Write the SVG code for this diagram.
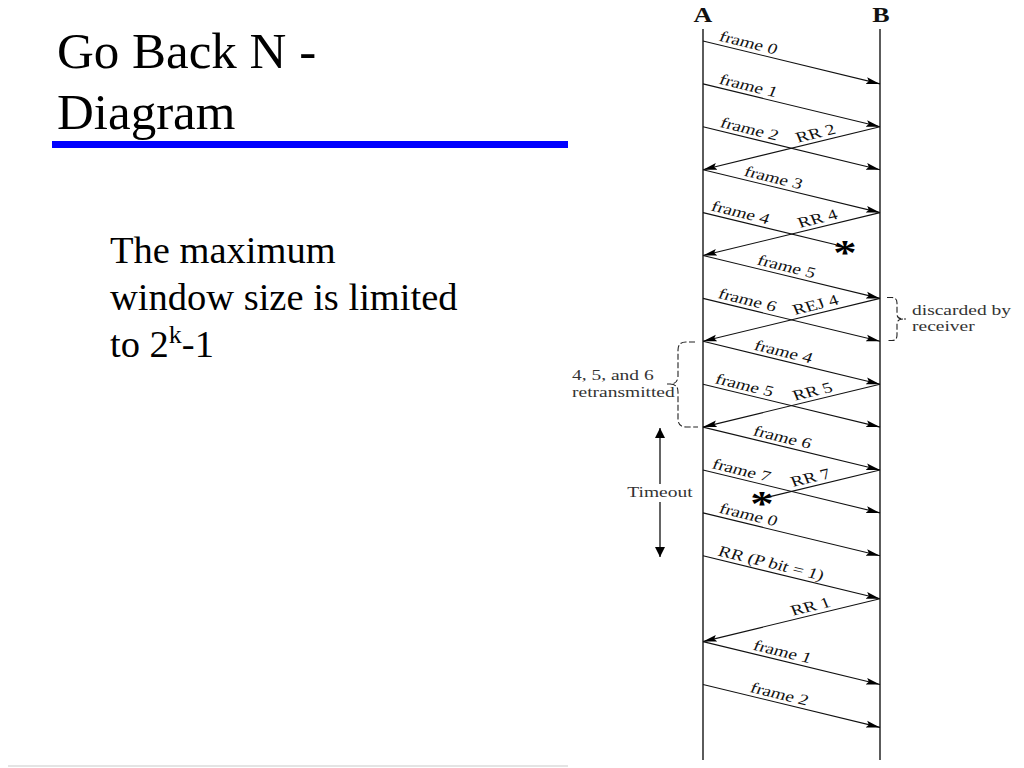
<svg xmlns="http://www.w3.org/2000/svg" width="1024" height="768" viewBox="0 0 1024 768">
<style>
.title{font-family:"Liberation Serif","Times New Roman",serif;font-size:51px;fill:#000}
.body{font-family:"Liberation Serif","Times New Roman",serif;font-size:38.5px;fill:#000}
.lbl{font-family:"Liberation Serif","Times New Roman",serif;font-size:15px;fill:#111}
.note{font-family:"Liberation Serif","Times New Roman",serif;font-size:15px;fill:#333}
.hd{font-family:"Liberation Serif","Times New Roman",serif;font-size:20px;font-weight:bold;fill:#111}
.star{font-family:"Liberation Serif","Times New Roman",serif;font-size:36px;font-weight:bold;fill:#000}
.life{stroke:#333;stroke-width:1.6;fill:none}
.msg{stroke:#111;stroke-width:1.1;fill:none;marker-end:url(#ah)}
.lost{stroke:#111;stroke-width:1.1;fill:none}
.brace{stroke:#222;stroke-width:1.1;fill:none;stroke-dasharray:6,2.5}
.tmo{stroke:#111;stroke-width:1.3;fill:none;marker-end:url(#ah2)}
</style>
<defs>
<marker id="ah" markerUnits="userSpaceOnUse" markerWidth="16" markerHeight="10" refX="14" refY="4" orient="auto"><path d="M0,0.6 L14,4 L0,7.4 L2.5,4 z" fill="#000"/></marker>
<marker id="ah2" markerUnits="userSpaceOnUse" markerWidth="12" markerHeight="12" refX="10" refY="5" orient="auto"><path d="M0,0 L10,5 L0,10 z" fill="#000"/></marker>
</defs>
<rect width="1024" height="768" fill="#fff"/>

<g id="title">
<text class="title" x="57" y="68">Go Back N -</text>
<text class="title" x="57" y="129">Diagram</text>
<rect x="52" y="141" width="516" height="7" fill="#0000ff"/>
</g>

<g id="body-text">
<text class="body" x="110" y="263">The maximum</text>
<text class="body" x="110" y="310">window size is limited</text>
<text class="body" x="110" y="357">to 2<tspan font-size="26" dy="-14">k</tspan><tspan dy="14">-1</tspan></text>
</g>

<line id="footer-rule" x1="8" y1="766" x2="568" y2="766" stroke="#e4e4e4" stroke-width="2"/>

<g id="station-A">
<text class="hd" text-anchor="middle" transform="translate(703,22) scale(1.3,1)">A</text>
<line class="life" x1="703" y1="29" x2="703" y2="760"/>
</g>
<g id="station-B">
<text class="hd" text-anchor="middle" transform="translate(881,22) scale(1.3,1)">B</text>
<line class="life" x1="880" y1="29" x2="880" y2="760"/>
</g>

<g id="connectors">
<line class="msg" x1="703" y1="41" x2="880" y2="83.9"/>
<line class="msg" x1="703" y1="83.9" x2="880" y2="126.8"/>
<line class="msg" x1="703" y1="126.8" x2="880" y2="169.7"/>
<line class="msg" x1="880" y1="126.8" x2="703" y2="169.7"/>
<line class="msg" x1="703" y1="169.7" x2="880" y2="212.6"/>
<line class="lost" x1="703" y1="212.6" x2="836" y2="244.8"/>
<line class="msg" x1="880" y1="212.6" x2="703" y2="255.5"/>
<line class="msg" x1="703" y1="255.5" x2="880" y2="298.4"/>
<line class="msg" x1="703" y1="298.4" x2="880" y2="341.3"/>
<line class="msg" x1="880" y1="298.4" x2="703" y2="341.3"/>
<line class="msg" x1="703" y1="341.3" x2="880" y2="384.2"/>
<line class="msg" x1="703" y1="384.2" x2="880" y2="427.1"/>
<line class="msg" x1="880" y1="384.2" x2="703" y2="427.1"/>
<line class="msg" x1="703" y1="427.1" x2="880" y2="470"/>
<line class="msg" x1="703" y1="470" x2="880" y2="512.9"/>
<line class="lost" x1="880" y1="470" x2="768" y2="497.1"/>
<line class="msg" x1="703" y1="512.9" x2="880" y2="555.8"/>
<line class="msg" x1="703" y1="555.8" x2="880" y2="598.7"/>
<line class="msg" x1="880" y1="598.7" x2="703" y2="641.6"/>
<line class="msg" x1="703" y1="641.6" x2="880" y2="684.5"/>
<line class="msg" x1="703" y1="684.5" x2="880" y2="727.4"/>
</g>

<g id="message-labels">
<text class="lbl" transform="translate(718,40.6) scale(1.3,1) rotate(17.49)">frame 0</text>
<text class="lbl" transform="translate(718,83.5) scale(1.3,1) rotate(17.49)">frame 1</text>
<text class="lbl" transform="translate(719,126.7) scale(1.3,1) rotate(17.49)">frame 2</text>
<text class="lbl" transform="translate(798,142.7) scale(1.3,1) rotate(-17.49)">RR 2</text>
<text class="lbl" transform="translate(743,175.4) scale(1.3,1) rotate(17.49)">frame 3</text>
<text class="lbl" transform="translate(710,210.3) scale(1.3,1) rotate(17.49)">frame 4</text>
<text class="lbl" transform="translate(800,228) scale(1.3,1) rotate(-17.49)">RR 4</text>
<text class="lbl" transform="translate(756,264.3) scale(1.3,1) rotate(17.49)">frame 5</text>
<text class="lbl" transform="translate(717,297.8) scale(1.3,1) rotate(17.49)">frame 6</text>
<text class="lbl" transform="translate(795,315) scale(1.3,1) rotate(-17.49)">REJ 4</text>
<text class="lbl" transform="translate(753,349.4) scale(1.3,1) rotate(17.49)">frame 4</text>
<text class="lbl" transform="translate(714,382.9) scale(1.3,1) rotate(17.49)">frame 5</text>
<text class="lbl" transform="translate(795,400.8) scale(1.3,1) rotate(-17.49)">RR 5</text>
<text class="lbl" transform="translate(752,435) scale(1.3,1) rotate(17.49)">frame 6</text>
<text class="lbl" transform="translate(711,467.9) scale(1.3,1) rotate(17.49)">frame 7</text>
<text class="lbl" transform="translate(793,487.1) scale(1.3,1) rotate(-17.49)">RR 7</text>
<text class="lbl" transform="translate(718,512.5) scale(1.3,1) rotate(17.49)">frame 0</text>
<text class="lbl" transform="translate(717,555.2) scale(1.3,1) rotate(17.49)">RR (P bit = 1)</text>
<text class="lbl" transform="translate(793,615.8) scale(1.3,1) rotate(-17.49)">RR 1</text>
<text class="lbl" transform="translate(752,649.5) scale(1.3,1) rotate(17.49)">frame 1</text>
<text class="lbl" transform="translate(749,691.7) scale(1.3,1) rotate(17.49)">frame 2</text>
</g>

<g id="lost-marks">
<text class="star" text-anchor="middle" transform="translate(845,265) scale(1.3,1)">*</text>
<text class="star" text-anchor="middle" transform="translate(762,516) scale(1.3,1)">*</text>
</g>

<g id="discarded-note">
<path class="brace" d="M887,297.5 L892,297.5 Q897,297.5 897,303 L897,314 Q897,319 903,319 L906,319 M903,319 Q897,319 897,324 L897,335 Q897,340.5 892,340.5 L887,340.5"/>
<text class="note" transform="translate(912,315) scale(1.3,1)">discarded by</text>
<text class="note" transform="translate(912,331) scale(1.3,1)">receiver</text>
</g>

<g id="retransmitted-note">
<path class="brace" d="M695,342 L686,342 Q678,342 678,350 L678,376 Q678,384 670,384 L667,384 M670,384 Q678,384 678,392 L678,419 Q678,427 686,427 L698,427"/>
<text class="note" transform="translate(572,380) scale(1.3,1)">4, 5, and 6</text>
<text class="note" transform="translate(572,397) scale(1.3,1)">retransmitted</text>
</g>

<g id="timeout">
<line class="tmo" x1="660" y1="484" x2="660" y2="428"/>
<line class="tmo" x1="660" y1="502" x2="660" y2="557"/>
<text class="note" text-anchor="middle" transform="translate(660,497) scale(1.3,1)">Timeout</text>
</g>
</svg>
